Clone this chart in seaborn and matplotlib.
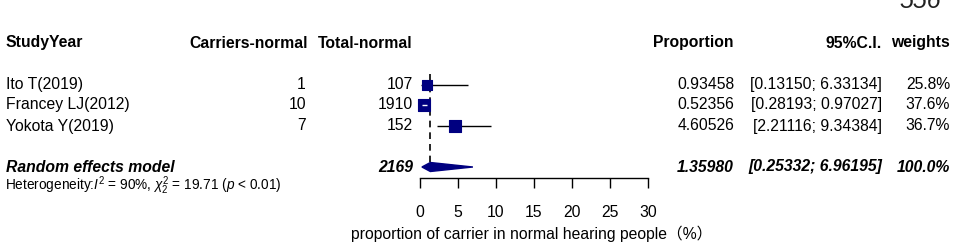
import numpy as np
import pandas as pd
import matplotlib
matplotlib.use("Agg")
import matplotlib.pyplot as plt
import seaborn as sns

# data
studies = ["Ito T(2019)", "Francey LJ(2012)", "Yokota Y(2019)"]
carriers = [1, 10, 7]
totals = [107, 1910, 152]
props = [0.93458, 0.52356, 4.60526]
ci_lo = [0.13150, 0.28193, 2.21116]
ci_hi = [6.33134, 0.97027, 9.34384]
weights = [25.8, 37.6, 36.7]
re_total = 2169
re_est = 1.35980
re_lo = 0.25332
re_hi = 6.96195
re_weight = 100.0
xticks = [0, 5, 10, 15, 20, 25, 30]
xlabel = "proportion of carrier in normal hearing people（%）"

sns.set_theme(style="white")
plt.rcParams["font.family"] = ["Liberation Sans", "Noto Sans CJK SC", "DejaVu Sans"]
plt.rcParams["mathtext.fontset"] = "custom"
plt.rcParams["mathtext.rm"] = "Liberation Sans"
plt.rcParams["mathtext.it"] = "Liberation Sans:italic"

W, H = 957, 246
fig = plt.figure(figsize=(W / 100, H / 100), dpi=100)
fig.patch.set_facecolor("white")


def txt(x, y, s, ha="left", **kw):
    fig.text(x / W, 1 - y / H, s, ha=ha, va="center", color="black", **kw)


FS = 11.3
navy = "#000080"

# rows (pixel y)
row_head = 43
rows = [85, 105, 126]
row_re = 167

# header
txt(6, row_head, "StudyYear", weight="bold", fontsize=FS)
txt(308, row_head, "Carriers-normal", ha="right", weight="bold", fontsize=FS)
txt(413, row_head, "Total-normal", ha="right", weight="bold", fontsize=FS)
txt(734, row_head, "Proportion", ha="right", weight="bold", fontsize=FS)
txt(882, row_head, "95%C.I.", ha="right", weight="bold", fontsize=FS)
txt(950, row_head, "weights", ha="right", weight="bold", fontsize=FS)

for y, name, ev, n, p, lo, hi, w in zip(rows, studies, carriers, totals, props, ci_lo, ci_hi, weights):
    txt(6, y, name, fontsize=FS)
    txt(306, y, str(ev), ha="right", fontsize=FS)
    txt(413, y, str(n), ha="right", fontsize=FS)
    txt(734, y, f"{p:.5f}", ha="right", fontsize=FS)
    txt(882, y, f"[{lo:.5f}; {hi:.5f}]", ha="right", fontsize=FS)
    txt(950, y, f"{w:.1f}%", ha="right", fontsize=FS)

txt(6, row_re, "Random effects model", weight="bold", style="italic", fontsize=FS)
txt(413, row_re, str(re_total), ha="right", weight="bold", style="italic", fontsize=FS)
txt(734, row_re, f"{re_est:.5f}", ha="right", weight="bold", style="italic", fontsize=FS)
txt(882, row_re, f"[{re_lo:.5f}; {re_hi:.5f}]", ha="right", weight="bold", style="italic", fontsize=FS)
txt(950, row_re, f"{re_weight:.1f}%", ha="right", weight="bold", style="italic", fontsize=FS)
txt(5, 186, r"Heterogeneity:$I^2$ = 90%, $\chi^2_2$ = 19.71 ($p$ < 0.01)", fontsize=9.8)

# page number, cut by the top edge as in the source
fig.text(899 / W, 1 - 8 / H, "556", ha="left", va="baseline", fontsize=18,
         style="italic", color="#222222")

# forest panel: x in data units, y in pixel rows
ax_top, ax_bot = 70, 178
ax = fig.add_axes([420 / W, 1 - ax_bot / H, 228 / W, (ax_bot - ax_top) / H])
ax.set_xlim(xticks[0], xticks[-1])
ax.set_ylim(ax_bot, ax_top)
ax.patch.set_alpha(0)

# CI lines
ax.hlines(rows, ci_lo, ci_hi, color="black", lw=1, clip_on=False, zorder=2)

df = pd.DataFrame({"x": props, "y": rows, "w": weights})
sns.scatterplot(data=df, x="x", y="y", marker="s", s=[w * 2.2 for w in weights],
                color=navy, edgecolor=navy, linewidth=0.8, ax=ax,
                legend=False, clip_on=False, zorder=3)
# CI inside square drawn in white
for y, lo, hi in zip(rows, ci_lo, ci_hi):
    if hi - lo < 1.2:
        ax.hlines(y, lo, hi, color="white", lw=1, zorder=4, clip_on=False)

# random-effects line
ax.vlines(re_est, 74, 162, color="black", lw=1.2, linestyles=(0, (4, 3)), zorder=1)

# diamond
dia = np.array([[re_lo, row_re], [re_est, row_re - 4.5], [re_hi, row_re], [re_est, row_re + 4.5]])
ax.fill(dia[:, 0], dia[:, 1], color=navy, clip_on=False, zorder=3)

for s in ["top", "right", "left"]:
    ax.spines[s].set_visible(False)
ax.spines["bottom"].set_color("black")
ax.spines["bottom"].set_linewidth(1)
ax.set_yticks([])
ax.set_xticks(xticks)
ax.tick_params(axis="x", direction="out", length=7.5, width=1, color="black",
               bottom=True, labelsize=FS, pad=12, labelcolor="black")
ax.set_xlabel("")
ax.set_ylabel("")

txt(532, 234, xlabel, ha="center", fontsize=FS)

fig.savefig("out.png", dpi=100, facecolor="white")
